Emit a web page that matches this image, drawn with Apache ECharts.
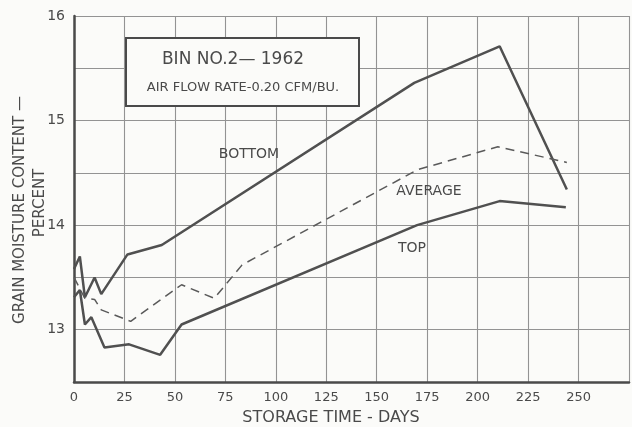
<!DOCTYPE html>
<html>
<head>
<meta charset="utf-8">
<script src="https://cdn.jsdelivr.net/npm/echarts@6/dist/echarts.min.js"></script>
<style>html,body{margin:0;padding:0;background:#fbfbf9;}#c{width:632px;height:427px;}</style>
</head>
<body>
<div id="c"></div>
<script>
const xTicks = [0, 25, 50, 75, 100, 125, 150, 175, 200, 225, 250];
const yTicks = [13, 14, 15, 16];
const bottomDays = [0, 2.9, 5.4, 10.2, 13.5, 26.5, 43.5, 168.6, 210.9, 244.2];
const bottomVals = [13.58, 13.70, 13.31, 13.50, 13.34, 13.72, 13.81, 15.36, 15.71, 14.34];
const averageDays = [0, 5.4, 10.2, 13.5, 28.1, 53.3, 69.5, 83.3, 170.2, 210, 244.2];
const averageVals = [13.50, 13.30, 13.29, 13.19, 13.08, 13.43, 13.30, 13.62, 14.53, 14.75, 14.60];
const topDays = [0, 2.9, 5.4, 8.6, 15.1, 27.3, 42.7, 53.3, 170, 210.9, 243.7];
const topVals = [13.31, 13.38, 13.05, 13.12, 12.83, 12.86, 12.76, 13.05, 14.0, 14.23, 14.17];

const pair = (xs, ys) => xs.map((x, i) => [x, ys[i]]);
const ink = '#4a4a4a';
const font = '"DejaVu Sans", sans-serif';

const chart = echarts.init(document.getElementById('c'), null, {renderer: 'canvas'});
chart.setOption({
  backgroundColor: '#fbfbf9',
  animation: false,
  grid: {left: 74, top: 16, bottom: 45, right: -7},
  xAxis: {
    type: 'value', min: 0, max: 275, interval: 25,
    axisLine: {show: true, lineStyle: {color: ink, width: 2.5}},
    axisTick: {show: false},
    splitLine: {show: true, lineStyle: {color: '#939393', width: 1.1}},
    axisLabel: {color: ink, fontSize: 13, fontFamily: font, margin: 9,
      formatter: v => xTicks.includes(v) ? String(v) : ''}
  },
  yAxis: {
    type: 'value', min: 12.5, max: 16, interval: 0.5,
    axisLine: {show: true, lineStyle: {color: ink, width: 2.5}},
    axisTick: {show: false},
    splitLine: {show: true, lineStyle: {color: '#939393', width: 1.1}},
    axisLabel: {color: ink, fontSize: 14, fontFamily: font, margin: 9,
      formatter: v => yTicks.includes(v) ? String(v) : ''}
  },
  graphic: [
    {type: 'text', rotation: Math.PI / 2, x: 20, y: 210,
     style: {text: 'GRAIN MOISTURE CONTENT —', fill: ink, font: '15px ' + font, textAlign: 'center', textVerticalAlign: 'middle'}},
    {type: 'text', rotation: Math.PI / 2, x: 40, y: 203,
     style: {text: 'PERCENT', fill: ink, font: '15px ' + font, textAlign: 'center', textVerticalAlign: 'middle'}},
    {type: 'text', x: 331, y: 418,
     style: {text: 'STORAGE TIME - DAYS', fill: ink, font: '16px ' + font, textAlign: 'center', textVerticalAlign: 'middle'}},
    {type: 'rect', shape: {x: 126, y: 38, width: 233, height: 68}, z: 10,
     style: {fill: '#fbfbf9', stroke: ink, lineWidth: 2}},
    {type: 'text', x: 233, y: 60, z: 11,
     style: {text: 'BIN NO.2— 1962', fill: ink, font: '17px ' + font, textAlign: 'center', textVerticalAlign: 'middle'}},
    {type: 'text', x: 243, y: 88, z: 11,
     style: {text: 'AIR FLOW RATE-0.20 CFM/BU.', fill: ink, font: '13px ' + font, textAlign: 'center', textVerticalAlign: 'middle'}},
    {type: 'text', x: 249, y: 154, z: 11,
     style: {text: 'BOTTOM', fill: ink, font: '14px ' + font, textAlign: 'center', textVerticalAlign: 'middle'}},
    {type: 'text', x: 429, y: 191, z: 11,
     style: {text: 'AVERAGE', fill: ink, font: '14px ' + font, textAlign: 'center', textVerticalAlign: 'middle'}},
    {type: 'text', x: 412, y: 248, z: 11,
     style: {text: 'TOP', fill: ink, font: '14px ' + font, textAlign: 'center', textVerticalAlign: 'middle'}}
  ],
  series: [
    {name: 'BOTTOM', type: 'line', data: pair(bottomDays, bottomVals), symbol: 'none',
     lineStyle: {color: '#505050', width: 2.5}},
    {name: 'AVERAGE', type: 'line', data: pair(averageDays, averageVals), symbol: 'none',
     lineStyle: {color: '#5a5a5a', width: 1.5, type: [9, 6]}},
    {name: 'TOP', type: 'line', data: pair(topDays, topVals), symbol: 'none',
     lineStyle: {color: '#505050', width: 2.5}}
  ]
});
</script>
</body>
</html>
